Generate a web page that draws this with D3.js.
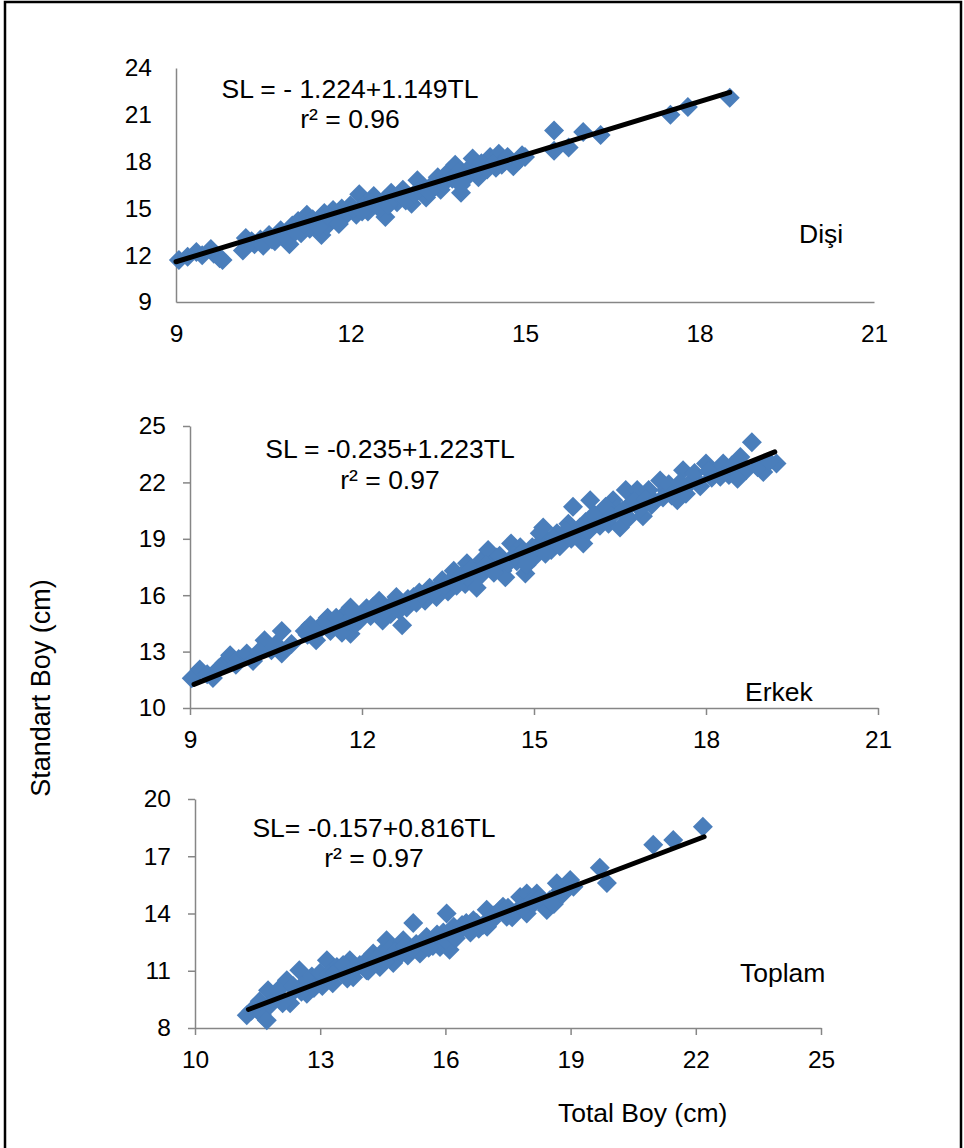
<!DOCTYPE html>
<html>
<head>
<meta charset="utf-8">
<script src="https://cdn.jsdelivr.net/npm/d3@7/dist/d3.min.js"></script>
<style>
  html, body { margin: 0; padding: 0; background: #fff; }
  svg text { font-family: "Liberation Sans", Arial, sans-serif; fill: #000; }
</style>
</head>
<body>
<svg id="chart" width="964" height="1148"></svg>
<script>
// ---------- DATA ----------
// Dişi (female)
const disiTL = [9.05,9.2,9.35,9.45,9.6,9.65,9.75,9.8,10.15,10.2,10.35,10.45,10.6,10.7,10.8,10.9,10.95,11.0,11.1,11.15,11.25,11.3,11.4,11.5,11.55,11.6,11.7,11.75,11.85,11.9,12.0,12.1,12.15,12.25,12.3,12.4,12.45,12.6,12.6,12.7,12.8,12.9,13.0,13.05,13.15,13.2,13.3,13.4,13.5,13.55,13.65,13.7,13.8,13.9,13.95,14.05,14.1,14.2,14.3,14.4,14.5,14.55,14.65,14.7,14.8,14.95,15.0,15.5,15.5,15.75,16.0,16.3,17.5,17.8,18.52,
  10.3,10.5,10.65,10.85,11.05,11.2,11.35,11.45,11.65,11.8,11.95,12.05,12.2,12.35,12.5,12.65,12.75,12.85,12.95,13.1,13.25,13.35,13.45,13.6,13.75,13.85,14.0,14.15,14.25,14.35,14.45,14.6,14.9,13.9];
const disiSL = [11.7,11.9,12.2,12.0,12.4,12.1,11.8,11.7,12.3,13.1,12.7,13.0,13.3,12.9,13.6,13.1,12.7,13.9,14.2,13.4,14.6,13.7,14.1,13.3,14.7,13.9,14.9,14.3,15.0,14.5,15.2,14.6,15.9,15.3,14.8,15.8,15.2,14.45,15.6,16.0,15.4,16.2,15.8,15.3,16.8,16.3,15.7,16.5,17.0,16.2,16.8,17.4,17.8,16.0,17.2,17.6,18.2,17.0,17.8,18.3,17.6,18.5,18.0,18.3,17.7,18.4,18.3,20.0,18.7,18.9,19.9,19.7,21.0,21.5,22.1,
  12.9,12.6,13.0,13.3,13.5,14.0,14.3,13.8,14.4,14.0,14.8,15.0,14.8,15.4,15.0,15.2,15.7,15.8,15.5,15.9,16.4,16.0,16.4,16.6,16.9,17.3,17.0,17.4,17.9,17.5,17.9,17.8,18.1,16.5];
const disiTrendTL = [9.0, 18.52];
const disiTrendSL = [11.58, 22.44];
const disiXTicks = [9, 12, 15, 18, 21];
const disiYTicks = [9, 12, 15, 18, 21, 24];

// Erkek (male)
const erkekTL = [9.03,9.17,9.3,9.4,9.6,9.7,9.85,9.99,10.1,10.3,10.42,10.6,10.6,10.77,11.0,11.1,11.2,11.3,11.4,11.45,11.6,11.7,11.8,11.8,11.9,11.97,12.08,12.15,12.26,12.3,12.36,12.45,12.5,12.6,12.7,12.78,12.85,12.9,13.0,13.1,13.18,13.3,13.35,13.4,13.5,13.6,13.7,13.8,13.83,13.95,14.0,14.0,14.1,14.2,14.25,14.35,14.45,14.5,14.6,14.7,14.76,14.85,14.87,14.97,15.0,15.1,15.16,15.25,15.3,15.4,15.5,15.6,15.68,15.75,15.86,15.9,15.98,16.1,16.2,16.3,16.38,16.45,16.5,16.6,16.7,16.8,16.9,17.0,17.1,17.2,17.3,17.4,17.5,17.6,17.7,17.84,18.0,18.1,18.2,18.3,18.4,18.5,18.6,18.7,18.8,19.0,19.23,
  9.5,9.8,10.2,10.5,11.05,11.25,11.35,11.55,11.65,11.75,11.85,12.0,12.2,12.4,12.55,12.65,12.8,12.95,13.05,13.25,13.45,13.55,13.65,13.75,13.9,14.05,14.15,14.3,14.4,14.55,14.65,14.8,14.9,15.05,15.2,15.35,15.45,15.55,15.65,15.8,15.95,16.05,16.15,16.25,16.35,16.55,16.65,16.75,16.85,16.95,17.05,17.25,17.35,17.45,17.55,17.65,17.8,17.9,18.05,18.25,18.45,18.55,18.9,19.1];
const erkekSL = [11.58,12.05,11.8,11.6,12.4,12.8,12.6,12.9,12.5,13.6,13.07,14.1,12.9,13.4,14.1,14.4,13.6,14.3,14.8,14.1,14.3,15.0,15.35,13.95,14.5,14.7,15.3,14.9,15.03,15.7,14.65,15.3,15.0,15.9,14.4,15.35,15.6,15.9,16.15,15.7,16.4,15.9,16.5,16.8,16.2,17.3,16.9,16.6,17.7,17.1,17.3,16.4,17.9,18.4,17.6,18.0,17.3,16.95,18.75,17.8,18.55,17.15,17.6,18.55,18.0,19.3,19.6,18.8,18.4,19.3,18.9,19.8,20.7,19.4,18.75,19.9,21.05,20.0,20.4,19.8,21.05,20.6,19.6,21.6,20.9,21.6,20.2,21.6,21.0,22.1,21.6,21.3,21.05,22.65,21.9,22.1,23.0,22.25,22.6,23.0,22.4,22.65,23.35,22.65,24.13,22.55,23.0,
  12.1,12.3,13.0,13.4,13.9,14.2,14.6,14.8,14.0,14.6,15.1,15.0,15.4,15.2,15.6,15.2,15.8,15.6,16.0,16.2,16.5,16.8,16.5,17.1,17.4,17.0,17.6,17.2,18.1,17.7,18.1,18.3,17.8,18.6,18.2,19.0,18.6,19.4,19.0,19.6,19.4,20.3,19.7,20.7,20.2,20.5,20.1,21.0,20.6,21.1,20.8,21.2,21.9,21.5,22.0,21.4,22.5,21.8,22.6,22.3,22.9,22.2,22.8,23.1];
const erkekTrendTL = [9.07, 19.2];
const erkekTrendSL = [11.26, 23.62];
const erkekXTicks = [9, 12, 15, 18, 21];
const erkekYTicks = [10, 13, 16, 19, 22, 25];

// Toplam (total)
const toplamTL = [11.24,11.35,11.48,11.6,11.72,11.75,11.9,12.04,12.2,12.28,12.4,12.5,12.6,12.68,12.8,12.92,13.05,13.16,13.3,13.4,13.47,13.6,13.71,13.79,13.95,14.11,14.2,14.27,14.43,14.5,14.59,14.75,14.85,14.99,15.1,15.23,15.3,15.39,15.55,15.7,15.87,15.95,16.03,16.1,16.2,16.35,16.5,16.67,16.8,16.99,17.0,17.15,17.31,17.38,17.47,17.6,17.79,17.95,17.95,18.1,18.19,18.3,18.43,18.6,18.67,18.8,18.99,19.07,19.7,19.87,20.98,21.46,22.17,
  11.55,11.8,12.0,12.1,12.35,12.55,12.75,12.85,13.0,13.2,13.35,13.55,13.65,13.85,14.05,14.15,14.35,14.55,14.65,14.8,14.95,15.05,15.2,15.45,15.6,15.8,16.0,16.25,16.4,16.6,16.75,16.9,17.1,17.25,17.5,17.7,17.85,18.05,18.25,18.5,18.75,18.9];
const toplamSL = [8.67,8.9,9.1,8.7,8.4,9.98,9.5,9.6,10.5,9.3,10.0,11.03,10.3,9.8,10.7,10.5,10.2,11.55,10.35,11.2,11.03,10.8,11.55,10.66,11.3,11.03,11.6,11.9,11.2,12.0,12.6,11.4,12.2,12.6,11.8,13.5,12.4,11.9,12.77,12.3,12.25,13.0,14.0,12.1,13.3,13.1,13.5,13.65,13.2,14.2,13.3,13.9,14.18,14.35,13.83,13.8,14.87,15.05,14.0,14.5,15.05,14.6,14.18,14.5,15.58,15.0,15.75,15.4,16.4,15.6,17.6,17.85,18.55,
  9.4,9.2,10.0,9.3,10.2,9.9,10.4,10.1,10.9,10.8,10.9,11.3,10.6,11.2,11.4,11.0,11.6,11.5,12.1,12.0,11.9,12.3,12.1,12.5,12.2,12.9,12.6,12.7,13.4,13.0,13.5,13.4,13.6,14.0,14.3,14.1,14.3,14.6,14.8,14.7,15.2,15.3];
const toplamTrendTL = [11.28, 22.2];
const toplamTrendSL = [8.97, 18.02];
const toplamXTicks = [10, 13, 16, 19, 22, 25];
const toplamYTicks = [8, 11, 14, 17, 20];

const equations = ["SL = - 1.224+1.149TL", "SL = -0.235+1.223TL", "SL= -0.157+0.816TL"];
const r2Labels = ["r² = 0.96", "r² = 0.97", "r² = 0.97"];
const groupLabels = ["Dişi", "Erkek", "Toplam"];
const xTitle = "Total Boy (cm)";
const yTitle = "Standart Boy (cm)";

// ---------- LAYOUT ----------
const panels = [
  { tl: disiTL, sl: disiSL, ttl: disiTrendTL, tsl: disiTrendSL, xt: disiXTicks, yt: disiYTicks,
    xr: [176, 874], yr: [302, 68], tick: 0, eq: equations[0], r2: r2Labels[0], lab: groupLabels[0],
    eqX: 350, eqY: 98, r2Y: 128, labX: 799, labY: 243 },
  { tl: erkekTL, sl: erkekSL, ttl: erkekTrendTL, tsl: erkekTrendSL, xt: erkekXTicks, yt: erkekYTicks,
    xr: [190, 878], yr: [708, 426], tick: 7, eq: equations[1], r2: r2Labels[1], lab: groupLabels[1],
    eqX: 390, eqY: 458, r2Y: 489, labX: 745, labY: 701 },
  { tl: toplamTL, sl: toplamSL, ttl: toplamTrendTL, tsl: toplamTrendSL, xt: toplamXTicks, yt: toplamYTicks,
    xr: [195, 821], yr: [1028, 799], tick: 7, eq: equations[2], r2: r2Labels[2], lab: groupLabels[2],
    eqX: 374, eqY: 837, r2Y: 867, labX: 740, labY: 982 }
];

const svg = d3.select("#chart");
const AXIS = "#868686";
const BLUE = "#4A7EBB";
const TXT = 26.5;

// outer frame
svg.append("rect").attr("x", 5).attr("y", 2).attr("width", 956).attr("height", 1160)
  .attr("fill", "none").attr("stroke", "#000").attr("stroke-width", 2.5);

const diamond = "M0,-10L10,0L0,10L-10,0Z";

panels.forEach(p => {
  const x = d3.scaleLinear().domain([p.xt[0], p.xt[p.xt.length - 1]]).range(p.xr);
  const y = d3.scaleLinear().domain([p.yt[0], p.yt[p.yt.length - 1]]).range(p.yr);
  const g = svg.append("g");

  const yAxis = d3.axisLeft(y).tickValues(p.yt).tickSize(p.tick).tickSizeOuter(0)
    .tickPadding(24 - p.tick).tickFormat(d3.format("d"));
  const xAxis = d3.axisBottom(x).tickValues(p.xt).tickSize(p.tick).tickSizeOuter(0)
    .tickPadding(23 - p.tick).tickFormat(d3.format("d"));

  const ya = g.append("g").attr("transform", `translate(${p.xr[0]},0)`).call(yAxis);
  const xa = g.append("g").attr("transform", `translate(0,${p.yr[0]})`).call(xAxis);
  [ya, xa].forEach(a => {
    a.select(".domain").attr("stroke", AXIS).attr("stroke-width", 1.5);
    a.selectAll(".tick line").attr("stroke", AXIS).attr("stroke-width", 1.5);
    a.selectAll(".tick text").attr("font-size", 24.5)
      .attr("font-family", "'Liberation Sans', Arial, sans-serif").attr("fill", "#000");
  });

  const pts = p.tl.map((t, i) => [t, p.sl[i]]);
  g.append("g").selectAll("path").data(pts).join("path")
    .attr("d", diamond)
    .attr("transform", d => `translate(${x(d[0])},${y(d[1])})`)
    .attr("fill", BLUE);

  const trend = p.ttl.map((t, i) => [t, p.tsl[i]]);
  g.append("path").datum(trend)
    .attr("d", d3.line().x(d => x(d[0])).y(d => y(d[1])))
    .attr("stroke", "#000").attr("stroke-width", 5).attr("stroke-linecap", "round").attr("fill", "none");

  g.append("text").attr("x", p.eqX).attr("y", p.eqY).attr("text-anchor", "middle")
    .attr("font-size", TXT).text(p.eq);
  g.append("text").attr("x", p.eqX).attr("y", p.r2Y).attr("text-anchor", "middle")
    .attr("font-size", TXT).text(p.r2);
  g.append("text").attr("x", p.labX).attr("y", p.labY).attr("font-size", TXT).text(p.lab);
});

svg.append("text").attr("x", 558).attr("y", 1122).attr("font-size", TXT).text(xTitle);
svg.append("text").attr("transform", "translate(50,688) rotate(-90)").attr("text-anchor", "middle")
  .attr("font-size", 27).text(yTitle);
</script>
</body>
</html>
